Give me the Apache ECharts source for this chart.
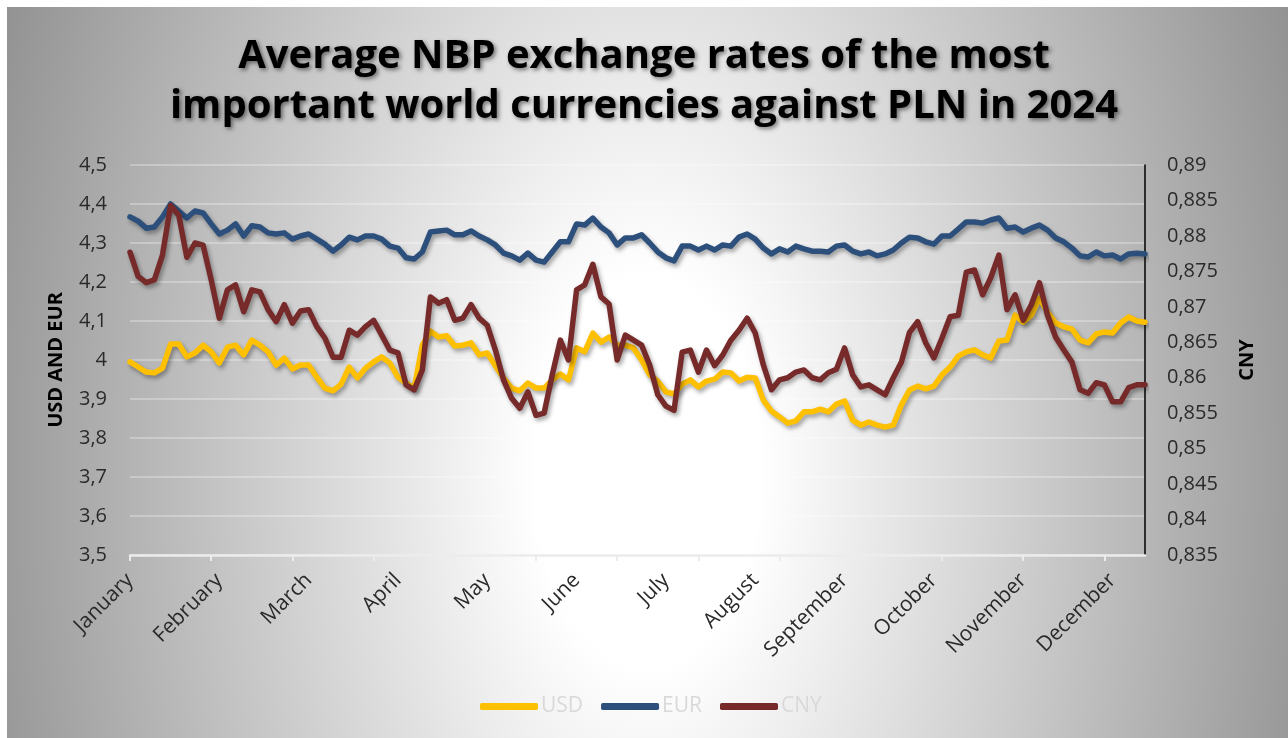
<!DOCTYPE html>
<html>
<head>
<meta charset="utf-8">
<script src="https://cdn.jsdelivr.net/npm/echarts@6/dist/echarts.min.js"></script>
<style>
  html, body { margin:0; padding:0; background:#ffffff; }
  #bg { position:absolute; left:7px; top:7px; right:0; bottom:0;
        background: radial-gradient(ellipse 750px 1300px at 640px 465px, #ffffff 0%, #ffffff 15%, #888888 100%); }
  #chart { position:absolute; left:0; top:0; width:1288px; height:738px; }
</style>
</head>
<body>
<div id="bg"></div>
<div id="chart"></div>
<script>
// Tick labels
const months = ['January','February','March','April','May','June','July','August','September','October','November','December'];
const seriesNames = ['USD','EUR','CNY'];
const leftAxisName = 'USD AND EUR';
const rightAxisName = 'CNY';
const titleText = 'Average NBP exchange rates of the most\nimportant world currencies against PLN in 2024';

const usd = [3.995,3.982,3.969,3.967,3.979,4.041,4.041,4.008,4.018,4.038,
  4.021,3.992,4.033,4.038,4.013,4.051,4.038,4.021,3.987,4.005,
  3.977,3.987,3.987,3.956,3.928,3.921,3.938,3.982,3.954,3.979,
  3.995,4.008,3.992,3.956,3.941,3.928,4.038,4.074,4.059,4.062,
  4.036,4.038,4.044,4.013,4.018,3.985,3.954,3.928,3.921,3.941,
  3.928,3.928,3.949,3.964,3.949,4.031,4.021,4.069,4.046,4.059,
  4.038,4.038,4.031,4.000,3.962,3.946,3.918,3.913,3.938,3.949,
  3.931,3.946,3.951,3.969,3.967,3.946,3.956,3.954,3.897,3.869,
  3.854,3.838,3.844,3.867,3.867,3.874,3.867,3.887,3.895,3.846,
  3.833,3.841,3.833,3.828,3.833,3.885,3.923,3.933,3.926,3.933,
  3.962,3.982,4.010,4.021,4.026,4.013,4.005,4.049,4.051,4.115,
  4.097,4.115,4.159,4.123,4.095,4.085,4.079,4.051,4.044,4.067,
  4.072,4.069,4.095,4.110,4.100,4.097];

const eur = [4.367,4.356,4.338,4.341,4.367,4.400,4.382,4.364,4.382,4.377,
  4.349,4.323,4.333,4.349,4.318,4.344,4.341,4.326,4.323,4.326,
  4.310,4.318,4.323,4.310,4.297,4.279,4.295,4.315,4.308,4.318,
  4.318,4.310,4.292,4.287,4.262,4.259,4.277,4.328,4.331,4.333,
  4.321,4.321,4.331,4.318,4.308,4.295,4.274,4.267,4.256,4.274,
  4.256,4.251,4.277,4.303,4.303,4.349,4.346,4.364,4.341,4.326,
  4.295,4.313,4.313,4.321,4.300,4.277,4.262,4.254,4.292,4.292,
  4.282,4.292,4.282,4.295,4.292,4.315,4.323,4.310,4.287,4.272,
  4.285,4.277,4.292,4.285,4.279,4.279,4.277,4.292,4.295,4.279,
  4.272,4.277,4.267,4.272,4.282,4.300,4.315,4.313,4.303,4.297,
  4.318,4.318,4.336,4.354,4.354,4.351,4.359,4.364,4.338,4.341,
  4.328,4.338,4.346,4.333,4.313,4.303,4.287,4.267,4.264,4.277,
  4.267,4.269,4.259,4.272,4.274,4.272];

const cny = [0.8777,0.8743,0.8734,0.8738,0.8773,0.8843,0.8829,0.8770,0.8790,0.8787,
  0.8738,0.8684,0.8724,0.8731,0.8693,0.8724,0.8721,0.8696,0.8679,0.8703,
  0.8677,0.8694,0.8696,0.8672,0.8656,0.8629,0.8629,0.8667,0.8660,0.8672,
  0.8681,0.8660,0.8639,0.8635,0.8590,0.8583,0.8611,0.8714,0.8705,0.8710,
  0.8681,0.8684,0.8703,0.8684,0.8674,0.8639,0.8597,0.8571,0.8557,0.8580,
  0.8547,0.8550,0.8604,0.8653,0.8625,0.8724,0.8731,0.8760,0.8714,0.8704,
  0.8625,0.8660,0.8653,0.8646,0.8618,0.8576,0.8560,0.8554,0.8636,0.8639,
  0.8608,0.8639,0.8617,0.8632,0.8653,0.8667,0.8684,0.8663,0.8618,0.8583,
  0.8597,0.8600,0.8608,0.8611,0.8600,0.8597,0.8607,0.8612,0.8642,0.8604,
  0.8587,0.8590,0.8583,0.8576,0.8600,0.8622,0.8664,0.8679,0.8649,0.8628,
  0.8656,0.8686,0.8688,0.8749,0.8752,0.8717,0.8741,0.8773,0.8696,0.8717,
  0.8681,0.8703,0.8734,0.8688,0.8657,0.8639,0.8622,0.8583,0.8578,0.8593,
  0.8590,0.8566,0.8566,0.8586,0.8590,0.8590];

const colors = ['#FFC000', '#2C4F7C', '#772A2A'];
const FONT = 'Open Sans';
const TICK_STEP = 10;  // samples between tick marks
const LABEL_STEP = 11; // samples between month labels

const categories = usd.map((_, i) => (i % LABEL_STEP === 0 && months[i / LABEL_STEP]) ? months[i / LABEL_STEP] : '');

const chart = echarts.init(document.getElementById('chart'), null, {renderer: 'canvas'});

function mkSeries(name, data, color, yIdx) {
  return {
    name, type: 'line', data, yAxisIndex: yIdx,
    showSymbol: false, symbol: 'none', smooth: false,
    lineStyle: { color, width: 5.5, cap: 'round', join: 'round',
      shadowColor: 'rgba(0,0,0,0.35)', shadowBlur: 4, shadowOffsetX: 2, shadowOffsetY: 3 },
    itemStyle: { color },
    emphasis: { disabled: true },
    animation: false
  };
}

chart.setOption({
  backgroundColor: 'transparent',
  animation: false,
  title: {
    text: titleText, left: 'center', top: 32, padding: 0,
    textStyle: { fontFamily: FONT, fontWeight: 'bold', fontSize: 40, lineHeight: 50, color: '#000',
      textShadowColor: 'rgba(0,0,0,0.5)', textShadowBlur: 4, textShadowOffsetX: 2, textShadowOffsetY: 2 }
  },
  legend: {
    data: seriesNames, left: 475, top: 691, icon: 'roundRect',
    itemWidth: 58, itemHeight: 7, itemGap: 18,
    textStyle: { fontFamily: FONT, fontSize: 21, color: '#d9d9d9', padding: [0,0,0,-2] }
  },
  grid: { left: 130, right: 143, top: 165, bottom: 183, containLabel: false },
  xAxis: {
    type: 'category', data: categories, boundaryGap: false,
    axisLine: { show: true, lineStyle: { color: '#ececec', width: 2.5 } },
    axisTick: { show: true, interval: TICK_STEP - 1, length: 6, lineStyle: { color: '#ececec', width: 2 } },
    axisLabel: { interval: LABEL_STEP - 1, rotate: 45, margin: 22,
      fontFamily: FONT, fontSize: 21, color: '#2a2a2a' },
    splitLine: { show: false }
  },
  yAxis: [
    {
      type: 'value', min: 3.5, max: 4.5, interval: 0.1, position: 'left',
      name: leftAxisName, nameLocation: 'middle', nameRotate: 90, nameGap: 64,
      nameTextStyle: { fontFamily: FONT, fontWeight: 'bold', fontSize: 20, color: '#000' },
      axisLine: { show: false }, axisTick: { show: false },
      axisLabel: { margin: 23, fontFamily: FONT, fontSize: 20, color: '#2a2a2a',
        formatter: v => String(+v.toFixed(1)).replace('.', ',') },
      splitLine: { show: true, lineStyle: { color: 'rgba(255,255,255,0.28)', width: 2 } }
    },
    {
      type: 'value', min: 0.835, max: 0.89, interval: 0.005, position: 'right',
      name: rightAxisName, nameLocation: 'middle', nameRotate: 90, nameGap: 92,
      nameTextStyle: { fontFamily: FONT, fontWeight: 'bold', fontSize: 20, color: '#000' },
      axisLine: { show: true, lineStyle: { color: '#000', width: 1.5 } }, axisTick: { show: false },
      axisLabel: { margin: 22, fontFamily: FONT, fontSize: 20, color: '#2a2a2a',
        formatter: v => String(+v.toFixed(3)).replace('.', ',') },
      splitLine: { show: false }
    }
  ],
  series: [
    mkSeries(seriesNames[0], usd, colors[0], 0),
    mkSeries(seriesNames[1], eur, colors[1], 0),
    mkSeries(seriesNames[2], cny, colors[2], 1)
  ]
});
</script>
</body>
</html>
